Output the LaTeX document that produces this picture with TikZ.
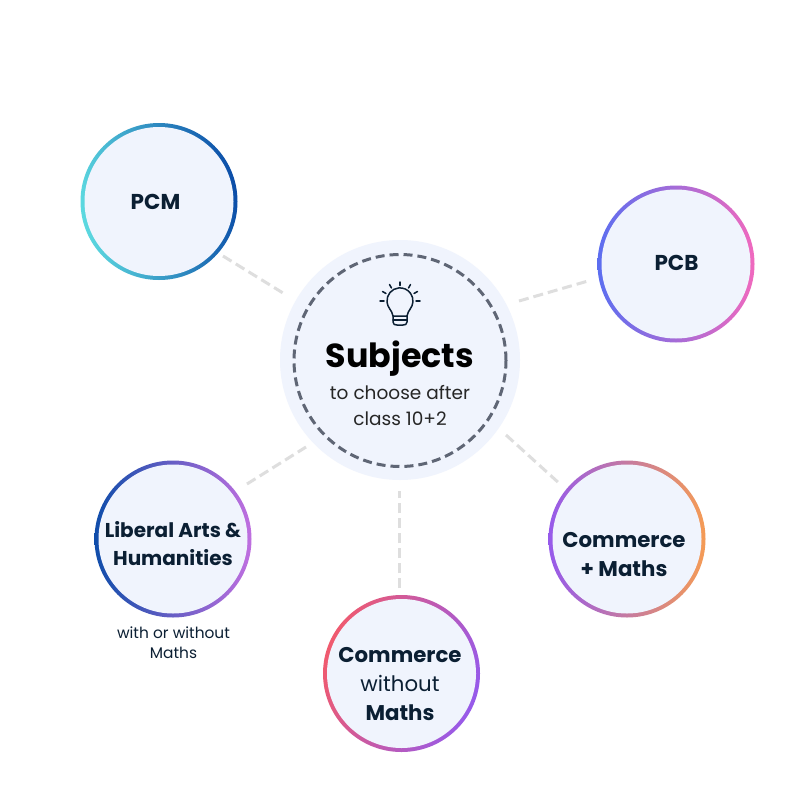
\documentclass[tikz,border=0pt]{standalone}
\usepackage{fontspec}
\setmainfont{Poppins}
\definecolor{ink}{HTML}{0B1F33}
\definecolor{disc}{HTML}{F0F4FD}
\definecolor{hubdash}{HTML}{5F6675}
\definecolor{link}{HTML}{DEDEDE}
\tikzset{
  ring/.style={circle,minimum size=157pt,inner sep=0pt,shading=axis},
  core/.style={circle,fill=disc,minimum size=149pt,inner sep=0pt},
  label/.style={text=ink,align=center,font=\fontsize{21.3}{29}\selectfont\bfseries},
  linkline/.style={draw=link,line width=3pt,dash pattern=on 10pt off 5pt},
  bulbline/.style={draw=ink,line width=1.5pt,line cap=round,line join=round},
}
\begin{document}
\begin{tikzpicture}[x=1pt,y=-1pt]
\useasboundingbox (0,0) rectangle (800,800);
\fill[white] (0,0) rectangle (800,800);
% hub
\node[circle,fill=disc,minimum size=240pt,inner sep=0pt] (hub) at (400,360) {};
\node[circle,draw=hubdash,line width=3pt,dash pattern=on 9pt off 5pt,minimum size=212pt,inner sep=0pt] (hubdashed) at (400,360.5) {};
% bulb
\draw[bulbline] (393,316) .. controls (392,310) and (387.5,308) .. (387,302) arc[start angle=175,end angle=365,radius=13] .. controls (412.5,308) and (408,310) .. (407,316) -- cycle;
\draw[bulbline] (393,316) -- (393,322) .. controls (393,324.5) and (395,325) .. (397,325) -- (403,325) .. controls (405,325) and (407,324.5) .. (407,322) -- (407,316);
\draw[bulbline] (393,320) -- (407,320);
\draw[bulbline] (400,282) -- (400,285.5);
\draw[bulbline] (389.5,284.5) -- (391.5,288);
\draw[bulbline] (410.5,284.5) -- (408.5,288);
\draw[bulbline] (382.5,291.5) -- (386,293.5);
\draw[bulbline] (417.5,291.5) -- (414,293.5);
\draw[bulbline] (380,301) -- (384,301);
\draw[bulbline] (416,301) -- (420,301);
% hub text
\node[text=black,font=\fontsize{33.3}{38}\selectfont\bfseries] (subj) at (400,358.5) {Subjects};
\node[text=black!85,font=\fontsize{18.5}{26}\selectfont,align=center] (subt) at (400,405.5) {to choose after\\class 10+2};
% rings
\node[ring,left color={rgb,255:red,92;green,217;blue,224},middle color={rgb,255:red,50;green,150;blue,200},right color={rgb,255:red,11;green,77;blue,168},shading angle=100] (pcmr) at (159,201.5) {};
\node[core] (pcm) at (159,201.5) {};
\node[label,font=\fontsize{21.5}{29}\selectfont\bfseries] (pcmt) at (155.5,202) {PCM};
\node[ring,left color={rgb,255:red,92;green,110;blue,240},middle color={rgb,255:red,165;green,105;blue,225},right color={rgb,255:red,240;green,105;blue,190}] (pcbr) at (676,264) {};
\node[core] (pcb) at (676,264) {};
\node[label,font=\fontsize{21.5}{29}\selectfont\bfseries] (pcbt) at (676.5,263) {PCB};
\node[ring,left color={rgb,255:red,150;green,90;blue,235},middle color={rgb,255:red,190;green,110;blue,190},right color={rgb,255:red,245;green,155;blue,85}] (cmr) at (627,539) {};
\node[core] (cm) at (627,539) {};
\node[label] (cmt) at (624,555) {Commerce\\+ Maths};
\node[ring,left color={rgb,255:red,240;green,90;blue,110},middle color={rgb,255:red,205;green,85;blue,170},right color={rgb,255:red,150;green,90;blue,235},shading angle=70] (cwr) at (401.5,673.5) {};
\node[core] (cw) at (401.5,673.5) {};
\node[label,font=\fontsize{21.3}{29}\selectfont] (cwt) at (400,684) {\textbf{Commerce}\\without\\\textbf{Maths}};
\node[ring,left color={rgb,255:red,15;green,77;blue,170},middle color={rgb,255:red,110;green,90;blue,205},right color={rgb,255:red,192;green,111;blue,224}] (lar) at (173,539) {};
\node[core] (la) at (173,539) {};
\node[label,font=\fontsize{20}{28}\selectfont\bfseries] (lat) at (173,544) {Liberal Arts \&\\Humanities};
\node[text=ink,font=\fontsize{15.4}{20}\selectfont,align=center] (lasub) at (173.5,643) {with or without\\Maths};
% connectors
\coordinate (a1) at (223,256); \coordinate (a2) at (283,293);
\coordinate (b1) at (519,301); \coordinate (b2) at (588,281);
\coordinate (c1) at (506,435); \coordinate (c2) at (560,484);
\coordinate (d1) at (399,588); \coordinate (d2) at (399,491);
\coordinate (e1) at (247,484); \coordinate (e2) at (306,447);
\draw[linkline] (a1) -- (a2);
\draw[linkline] (b1) -- (b2);
\draw[linkline] (c1) -- (c2);
\draw[linkline] (d1) -- (d2);
\draw[linkline] (e1) -- (e2);
\end{tikzpicture}
\end{document}
